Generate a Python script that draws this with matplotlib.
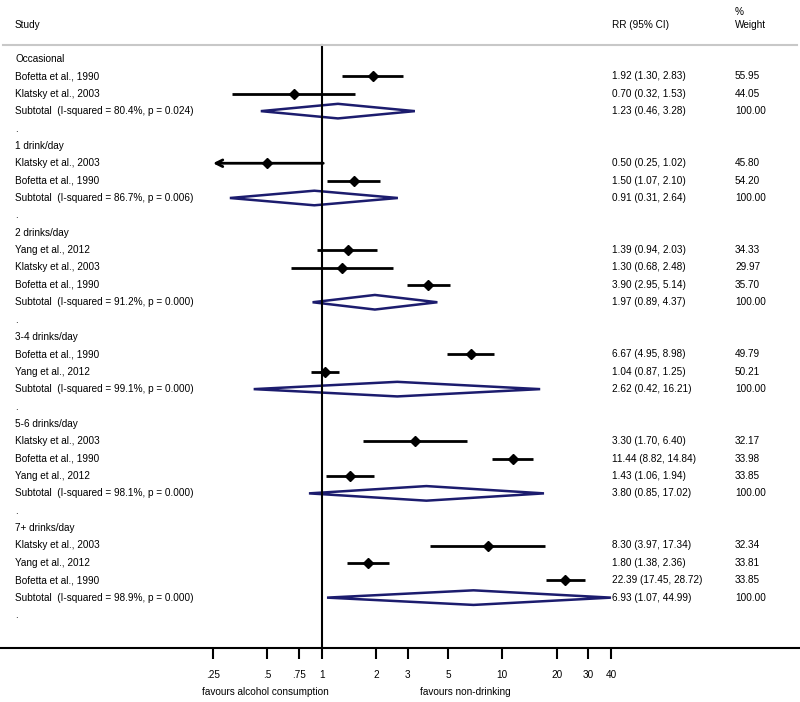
import numpy as np
import matplotlib
matplotlib.use("Agg")
import matplotlib.pyplot as plt
from matplotlib.transforms import blended_transform_factory

plt.rcParams['font.family'] = ['Liberation Sans', 'DejaVu Sans']

# data
groups = ['Occasional', '1 drink/day', '2 drinks/day', '3-4 drinks/day',
          '5-6 drinks/day', '7+ drinks/day']
studies = [
    ['Bofetta et al., 1990', 'Klatsky et al., 2003'],
    ['Klatsky et al., 2003', 'Bofetta et al., 1990'],
    ['Yang et al., 2012', 'Klatsky et al., 2003', 'Bofetta et al., 1990'],
    ['Bofetta et al., 1990', 'Yang et al., 2012'],
    ['Klatsky et al., 2003', 'Bofetta et al., 1990', 'Yang et al., 2012'],
    ['Klatsky et al., 2003', 'Yang et al., 2012', 'Bofetta et al., 1990'],
]
rr = [[1.92, 0.70], [0.50, 1.50], [1.39, 1.30, 3.90], [6.67, 1.04],
      [3.30, 11.44, 1.43], [8.30, 1.80, 22.39]]
lo = [[1.30, 0.32], [0.25, 1.07], [0.94, 0.68, 2.95], [4.95, 0.87],
      [1.70, 8.82, 1.06], [3.97, 1.38, 17.45]]
hi = [[2.83, 1.53], [1.02, 2.10], [2.03, 2.48, 5.14], [8.98, 1.25],
      [6.40, 14.84, 1.94], [17.34, 2.36, 28.72]]
weights = [[55.95, 44.05], [45.80, 54.20], [34.33, 29.97, 35.70],
           [49.79, 50.21], [32.17, 33.98, 33.85], [32.34, 33.81, 33.85]]

sub_rr = [1.23, 0.91, 1.97, 2.62, 3.80, 6.93]
sub_lo = [0.46, 0.31, 0.89, 0.42, 0.85, 1.07]
sub_hi = [3.28, 2.64, 4.37, 16.21, 17.02, 44.99]
i_sq = [80.4, 86.7, 91.2, 99.1, 98.1, 98.9]
p_het = [0.024, 0.006, 0.000, 0.000, 0.000, 0.000]

ticks = [0.25, 0.5, 0.75, 1, 2, 3, 5, 10, 20, 30, 40]
tick_labels = ['.25', '.5', '.75', '1', '2', '3', '5', '10', '20', '30', '40']

W, H = 800, 702
fig = plt.figure(figsize=(W / 100, H / 100), dpi=100)
axis_px = 648
ax = fig.add_axes([0, (H - axis_px) / H, 1, axis_px / H])

# x scale: .25 at px 213, 40 at px 611
ppd = (611 - 213) / np.log10(160)
xmin = 10 ** (np.log10(0.25) - 213 / ppd)
xmax = 10 ** (np.log10(40) + (W - 611) / ppd)
ax.set_xscale('log')
ax.set_xlim(xmin, xmax)

row0, step = 59, 17.375
ax.set_ylim(1 + (axis_px - row0) / step, 1 - row0 / step)

for s in ['top', 'left', 'right']:
    ax.spines[s].set_visible(False)
ax.spines['bottom'].set_linewidth(1.5)
ax.set_yticks([])
ax.set_xticks(ticks)
ax.set_xticklabels(tick_labels)
ax.minorticks_off()
ax.tick_params(axis='x', length=8, width=1.5, pad=8, labelsize=7.2)

tr = blended_transform_factory(ax.transAxes, ax.transData)
fs = 7.2
x_study = 15 / W
x_rr = 612 / W
x_wt = 735 / W
navy = '#1c1c6e'
dh = 0.42

row = 1
for g in range(len(groups)):
    ax.text(x_study, row, groups[g], transform=tr, fontsize=fs, va='center')
    row += 1
    for k in range(len(studies[g])):
        ax.text(x_study, row, studies[g][k], transform=tr, fontsize=fs, va='center')
        ax.text(x_rr, row, f"{rr[g][k]:.2f} ({lo[g][k]:.2f}, {hi[g][k]:.2f})",
                transform=tr, fontsize=fs, va='center')
        ax.text(x_wt, row, f"{weights[g][k]:.2f}", transform=tr, fontsize=fs, va='center')
        if lo[g][k] <= ticks[0]:
            ax.annotate('', xy=(ticks[0], row), xytext=(hi[g][k], row),
                        arrowprops=dict(arrowstyle='->', lw=2, color='black',
                                        shrinkA=0, shrinkB=0, mutation_scale=12))
        else:
            ax.plot([lo[g][k], min(hi[g][k], ticks[-1])], [row, row],
                    color='black', lw=2, solid_capstyle='butt')
        ax.plot(rr[g][k], row, marker='D', color='black', ms=5)
        row += 1
    ax.text(x_study, row,
            f"Subtotal  (I-squared = {i_sq[g]:.1f}%, p = {p_het[g]:.3f})",
            transform=tr, fontsize=fs, va='center')
    ax.text(x_rr, row, f"{sub_rr[g]:.2f} ({sub_lo[g]:.2f}, {sub_hi[g]:.2f})",
            transform=tr, fontsize=fs, va='center')
    ax.text(x_wt, row, "100.00", transform=tr, fontsize=fs, va='center')
    right = min(sub_hi[g], ticks[-1])
    ax.fill([sub_lo[g], sub_rr[g], right, sub_rr[g]],
            [row, row - dh, row, row + dh],
            facecolor='white', edgecolor=navy, lw=1.8, zorder=3)
    row += 1
    ax.text(x_study, row, ".", transform=tr, fontsize=fs, va='center')
    row += 1

# null line
top = 1 - (row0 - 45) / step
ax.plot([1, 1], [top, ax.get_ylim()[0]], color='black', lw=1.5, zorder=4)

# header
fig.text(15 / W, 1 - 25 / H, 'Study', fontsize=fs, va='center')
fig.text(x_rr, 1 - 25 / H, 'RR (95% CI)', fontsize=fs, va='center')
fig.text(x_wt, 1 - 12 / H, '%', fontsize=fs, va='center')
fig.text(x_wt, 1 - 25 / H, 'Weight', fontsize=fs, va='center')
fig.add_artist(plt.Line2D([3 / W, 797 / W], [1 - 45 / H, 1 - 45 / H],
                          color='#c8c8c8', lw=1.5))

fig.text(265 / W, 1 - 692 / H, 'favours alcohol consumption', fontsize=fs,
         ha='center', va='center')
fig.text(465 / W, 1 - 692 / H, 'favours non-drinking', fontsize=fs,
         ha='center', va='center')

fig.savefig('out.png', dpi=100)
